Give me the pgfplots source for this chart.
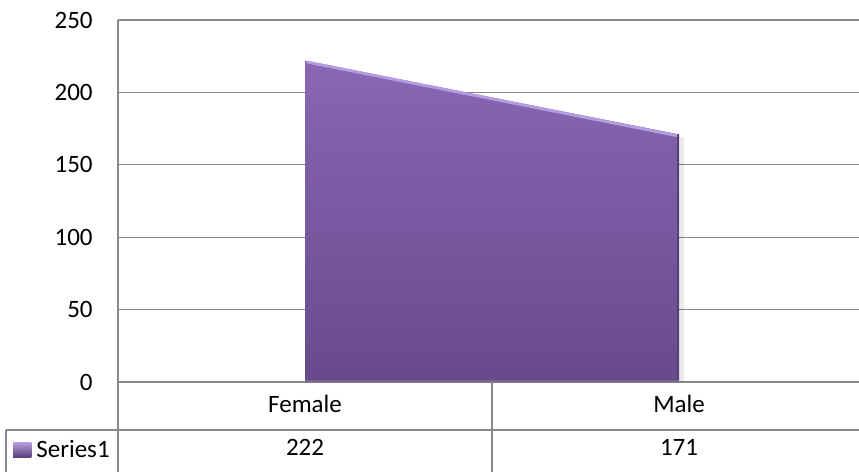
\documentclass[border=0pt]{standalone}
\usepackage{fontspec}
\setmainfont{Carlito}
\usepackage{pgfplots}
\pgfplotsset{compat=1.18}

\definecolor{gridgray}{RGB}{137,137,137}
\definecolor{areatop}{RGB}{137,103,180}
\definecolor{areabot}{RGB}{104,74,140}
\definecolor{areahi}{RGB}{180,156,225}
\definecolor{areaedge}{RGB}{88,62,120}

\begin{document}
\begin{tikzpicture}
% page frame: 1 px of the reference = 0.5pt
\useasboundingbox (-59pt,-45pt) rectangle (370.5pt,191pt);
\begin{axis}[
  at={(0,0)}, anchor=south west,
  scale only axis,
  width=370.5pt, height=181pt,
  xmin=-0.5, xmax=1.481,
  ymin=0, ymax=250,
  xtick={0,1},
  xticklabels={Female\\222, Male\\171},
  ytick={0,50,100,150,200,250},
  major tick length=0pt,
  axis x line*=bottom,
  axis y line*=left,
  axis line style={gridgray, line width=0.6pt, -},
  ymajorgrids,
  grid style={gridgray, line width=0.6pt},
  tick label style={font=\fontsize{12.5}{21.5}\selectfont},
  /pgf/number format/assume math mode=true,
  yticklabel style={inner sep=0pt, xshift=-12.5pt},
  xticklabel style={align=center, anchor=north, inner sep=0pt, yshift=-6.5pt},
  clip=false,
  legend style={at={(axis description cs:-0.1417,-0.188)}, anchor=west,
    draw=none, fill=none, inner sep=0pt,
    nodes={inner sep=1pt}, column sep=1.5pt,
    font=\fontsize{12.5}{15}\selectfont},
  legend cell align=left,
  legend image code/.code={
    \fill[top color=areahi, bottom color=areaedge] (0pt,-3.75pt) rectangle (9pt,3.75pt);
  },
]
% soft shadow on the right
\addplot[draw=none, fill=black, fill opacity=0.08, forget plot, xshift=2.5pt]
  coordinates {(0,220) (1,169) (1,0) (0,0)} -- cycle;
\addplot[draw=none, top color=areatop, bottom color=areabot]
  coordinates {(0,222) (1,171) (1,0) (0,0)} -- cycle;
\addlegendentry{Series1}
% bevel edges
\addplot[areahi, line width=1.4pt, forget plot, yshift=-0.7pt]
  coordinates {(0.004,222) (0.996,171)};
\addplot[areaedge, line width=1.2pt, forget plot, xshift=-0.5pt]
  coordinates {(1,171) (1,0)};
\addplot[areaedge!80, line width=1pt, forget plot, yshift=0.5pt]
  coordinates {(0,0) (1,0)};
\end{axis}
% data table lines
\draw[gridgray, line width=0.6pt] (0,0) -- (0,-45pt);
\draw[gridgray, line width=0.6pt] (187pt,0) -- (187pt,-45pt);
\draw[gridgray, line width=0.6pt] (-56pt,-24pt) -- (370.5pt,-24pt);
\draw[gridgray, line width=0.6pt] (-56pt,-24pt) -- (-56pt,-45pt);
\end{tikzpicture}
\end{document}
